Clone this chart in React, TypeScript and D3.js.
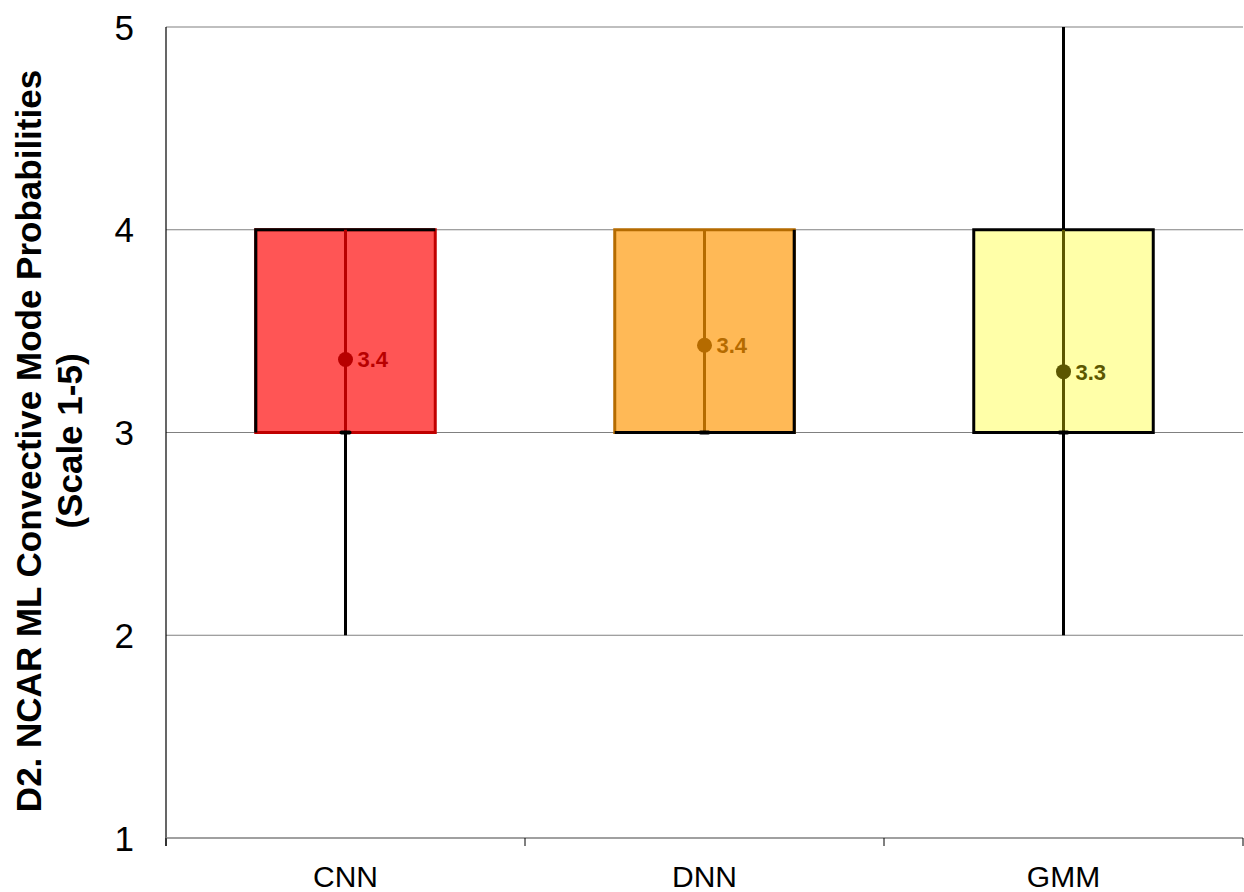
import React from "react";
import * as d3 from "d3";

const categories = ["CNN", "DNN", "GMM"];
const minVals = [2, 3, 2];
const q1Vals = [3, 3, 3];
const medianVals = [3, 3, 3];
const q3Vals = [4, 4, 4];
const maxVals = [4, 4, 5];
const meanVals = [3.36, 3.43, 3.3];
const meanLabels = ["3.4", "3.4", "3.3"];
const fillColors = ["#ff5555", "#ffb956", "#ffffa8"];
const darkColors = ["#b80000", "#b56b00", "#5c5700"];
const boxStrokes = ["#c00000", "#b56b00", "#000000"];
const yTicks = [1, 2, 3, 4, 5];

export default function App() {
  const W = 1244, H = 892;
  const left = 166, right = 1243, top = 27, bottom = 838;
  const x = d3.scaleBand<string>().domain(categories).range([left, right]).paddingInner(0).paddingOuter(0);
  const y = d3.scaleLinear().domain([1, 5]).range([bottom, top]);
  const bw = x.bandwidth();
  const boxW = bw * 0.5;
  const font = "'Liberation Sans', Arial, sans-serif";
  const tickXs = [left, ...categories.map((c) => (x(c) as number) + bw)];

  return (
    <svg width={W} height={H} style={{ position: "absolute", left: 0, top: 0 }}>
      <rect x={0} y={0} width={W} height={H} fill="#fff" />
      {yTicks.filter((t) => t > 1).map((t) => (
        <line key={t} x1={left} x2={right} y1={y(t)} y2={y(t)} stroke="#808080" strokeWidth={1.2} />
      ))}
      {categories.map((c, i) => {
        const cx = (x(c) as number) + bw / 2;
        const bx0 = cx - boxW / 2, bx1 = cx + boxW / 2;
        const by0 = y(q3Vals[i]), by1 = y(q1Vals[i]);
        return (
          <g key={c}>
            <line x1={cx} x2={cx} y1={y(minVals[i])} y2={y(q1Vals[i])} stroke="#000" strokeWidth={3} />
            <line x1={cx} x2={cx} y1={y(q3Vals[i])} y2={y(maxVals[i])} stroke="#000" strokeWidth={3} />
            <rect x={bx0} y={by0} width={boxW} height={by1 - by0}
              fill={fillColors[i]} stroke={boxStrokes[i]} strokeWidth={3} />
            {i === 0 && (
              <path d={`M${bx0},${by1} L${bx0},${by0} L${bx1},${by0}`} fill="none" stroke="#000" strokeWidth={3} />
            )}
            {i === 1 && (
              <path d={`M${bx1},${by0} L${bx1},${by1} L${bx0},${by1}`} fill="none" stroke="#000" strokeWidth={3} />
            )}
            <line x1={cx} x2={cx} y1={y(q1Vals[i])} y2={y(q3Vals[i])} stroke={darkColors[i]} strokeWidth={3} />
            <rect x={cx - 6} y={y(medianVals[i]) - 2} width={12} height={4} rx={2} fill="#000" />
            <circle cx={cx} cy={y(meanVals[i])} r={7.5} fill={darkColors[i]} />
            <text x={cx + 12} y={y(meanVals[i])} dy="0.36em" fontFamily={font} fontWeight="bold" fontSize={22} fill={darkColors[i]}>
              {meanLabels[i]}
            </text>
          </g>
        );
      })}
      <line x1={left} x2={left} y1={top} y2={bottom + 8} stroke="#000" strokeWidth={1.2} />
      <line x1={left} x2={right} y1={bottom} y2={bottom} stroke="#808080" strokeWidth={1.5} />
      {tickXs.map((tx, i) => (
        <line key={i} x1={tx} x2={tx} y1={bottom} y2={bottom + 8} stroke="#000" strokeWidth={1} />
      ))}
      {yTicks.map((t) => (
        <text key={t} x={134} y={y(t)} dy="0.36em" textAnchor="end" fontFamily={font} fontSize={35} fill="#000">
          {t}
        </text>
      ))}
      {categories.map((c) => (
        <text key={c} x={(x(c) as number) + bw / 2} y={887} textAnchor="middle" fontFamily={font} fontSize={30} fill="#000">
          {c}
        </text>
      ))}
      <g transform={`translate(0, 441) rotate(-90)`}>
        <text x={0} y={41} textAnchor="middle" fontFamily={font} fontWeight="bold" fontSize={35} fill="#000">
          D2. NCAR ML Convective Mode Probabilities
        </text>
        <text x={0} y={82} textAnchor="middle" fontFamily={font} fontWeight="bold" fontSize={35} fill="#000">
          (Scale 1-5)
        </text>
      </g>
    </svg>
  );
}
